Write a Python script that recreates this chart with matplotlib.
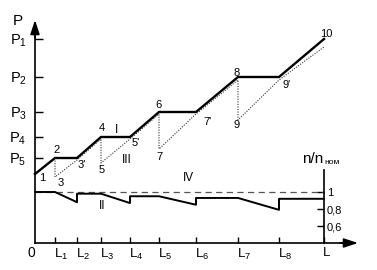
import matplotlib
matplotlib.use("Agg")
import matplotlib.pyplot as plt
import matplotlib.transforms as mtransforms

plt.rcParams['font.family'] = ['Liberation Sans', 'DejaVu Sans']
plt.rcParams['mathtext.fontset'] = 'custom'
plt.rcParams['mathtext.rm'] = 'Liberation Sans'
plt.rcParams['mathtext.it'] = 'Liberation Sans:italic'

# distance ticks 0 .. L
dist_ticks = [20, 42, 66, 95, 124, 161, 203, 244, 289]
dist_labels = [r'$\mathrm{L}_1$', r'$\mathrm{L}_2$', r'$\mathrm{L}_3$', r'$\mathrm{L}_4$',
               r'$\mathrm{L}_5$', r'$\mathrm{L}_6$', r'$\mathrm{L}_7$', r'$\mathrm{L}_8$', 'L']

# power levels
p_ticks = [204, 166, 131, 106, 85]
p_labels = [r'$\mathrm{P}_1$', r'$\mathrm{P}_2$', r'$\mathrm{P}_3$', r'$\mathrm{P}_4$', r'$\mathrm{P}_5$']

# curve I (solid)
dist_I = [0, 20, 42, 66, 95, 124, 161, 203, 244, 289]
power_I = [69, 85, 85, 106, 106, 131, 131, 166, 166, 204]

# curve III (dotted)
dist_III = [20, 20, 42, 66, 66, 95, 124, 124, 161, 203, 203, 244, 289]
power_III = [85, 66, 83, 104, 80, 104, 129, 94, 129, 163, 123, 163, 196]

# curve II, speed n/n_nom
dist_II = [0, 20, 42, 42, 66, 95, 95, 124, 161, 161, 203, 244, 244, 289]
speed_II = [1.0, 1.0, 0.88, 0.98, 0.98, 0.87, 0.95, 0.95, 0.85, 0.93, 0.93, 0.79, 0.92, 0.92]
n_ticks = [1, 0.8, 0.6]
n_labels = ['1', '0,8', '0,6']

# point labels
pt_names = ['1', '2', '3', "3'", '4', '5', "5'", '6', '7', "7'", '8', '9', "9'", '10']
pt_x = [7, 22, 26, 47, 67, 67, 101, 124, 124, 173, 202, 202, 252, 291]
pt_y = [65, 93, 60, 78, 115, 73, 100, 138, 86, 121, 170, 118, 158, 209]
roman = ['I', 'II', 'III', 'IV']
roman_x = [82, 67, 92, 153]
roman_y = [113, 37, 83, 65]

fig = plt.figure(figsize=(3.77, 2.70), dpi=100)
ax = fig.add_axes([0, 0, 1, 1])
ax.set_xlim(-35, 342)
ax.set_ylim(-27, 243)

for s in ['top', 'right']:
    ax.spines[s].set_visible(False)
ax.spines['left'].set_position(('data', 0))
ax.spines['bottom'].set_position(('data', 0))
ax.spines['left'].set_bounds(0, 212)
ax.spines['bottom'].set_bounds(0, 312)
ax.spines['left'].set_linewidth(1.2)
ax.spines['bottom'].set_linewidth(1.2)

arrow = dict(arrowstyle='-|>,head_length=0.85,head_width=0.28', color='black',
             lw=1.2, mutation_scale=10, shrinkA=0, shrinkB=0)
ax.annotate('', xy=(0, 223), xytext=(0, 205), arrowprops=arrow)
ax.annotate('', xy=(323, 0), xytext=(305, 0), arrowprops=arrow)

ax.set_xticks(dist_ticks, dist_labels)
ax.set_yticks(p_ticks, p_labels)
ax.tick_params(axis='x', direction='in', length=4.5, width=1, pad=3, labelsize=9.5)
ax.tick_params(axis='y', direction='in', length=6, width=1, pad=6, labelsize=10.5)
offset = mtransforms.ScaledTranslation(-0.01, 0, fig.dpi_scale_trans)
for lab in ax.get_xticklabels():
    lab.set_horizontalalignment('left')
    lab.set_transform(lab.get_transform() + offset)

ax.plot(dist_I, power_I, color='black', lw=1.7, solid_joinstyle='miter')
ax.plot(dist_III, power_III, color='#333333', lw=0.8, linestyle=(0, (1, 1.3)))

for name, x, y in zip(pt_names, pt_x, pt_y):
    ax.text(x, y, name, fontsize=8, ha='center', va='center')
for name, x, y in zip(roman, roman_x, roman_y):
    ax.text(x, y, name, fontsize=8.5, ha='center', va='center')

ax.text(-17, 222, 'P', fontsize=11, ha='center', va='center')
ax.text(-4, -10, '0', fontsize=10, ha='center', va='center')

# speed axis on the right
ax2 = ax.twinx()
ax2.set_ylim(0.0824, 3.2588)
for s in ['top', 'left', 'bottom']:
    ax2.spines[s].set_visible(False)
ax2.spines['right'].set_position(('data', 289))
ax2.spines['right'].set_bounds(0.4, 1.26)
ax2.spines['right'].set_linewidth(1.2)
ax2.set_yticks(n_ticks, n_labels)
ax2.tick_params(axis='y', direction='in', length=5, width=1, pad=2, labelsize=8)

ax2.plot([0, 289], [1, 1], color='#555555', lw=0.9, dashes=(5, 3.5))
ax2.plot(dist_II, speed_II, color='black', lw=1.4)

ax.text(278, 84, 'n/n', fontsize=11, ha='center', va='center')
ax.text(297, 81, 'ном', fontsize=6, ha='center', va='center')

fig.savefig('out.png', dpi=100)
